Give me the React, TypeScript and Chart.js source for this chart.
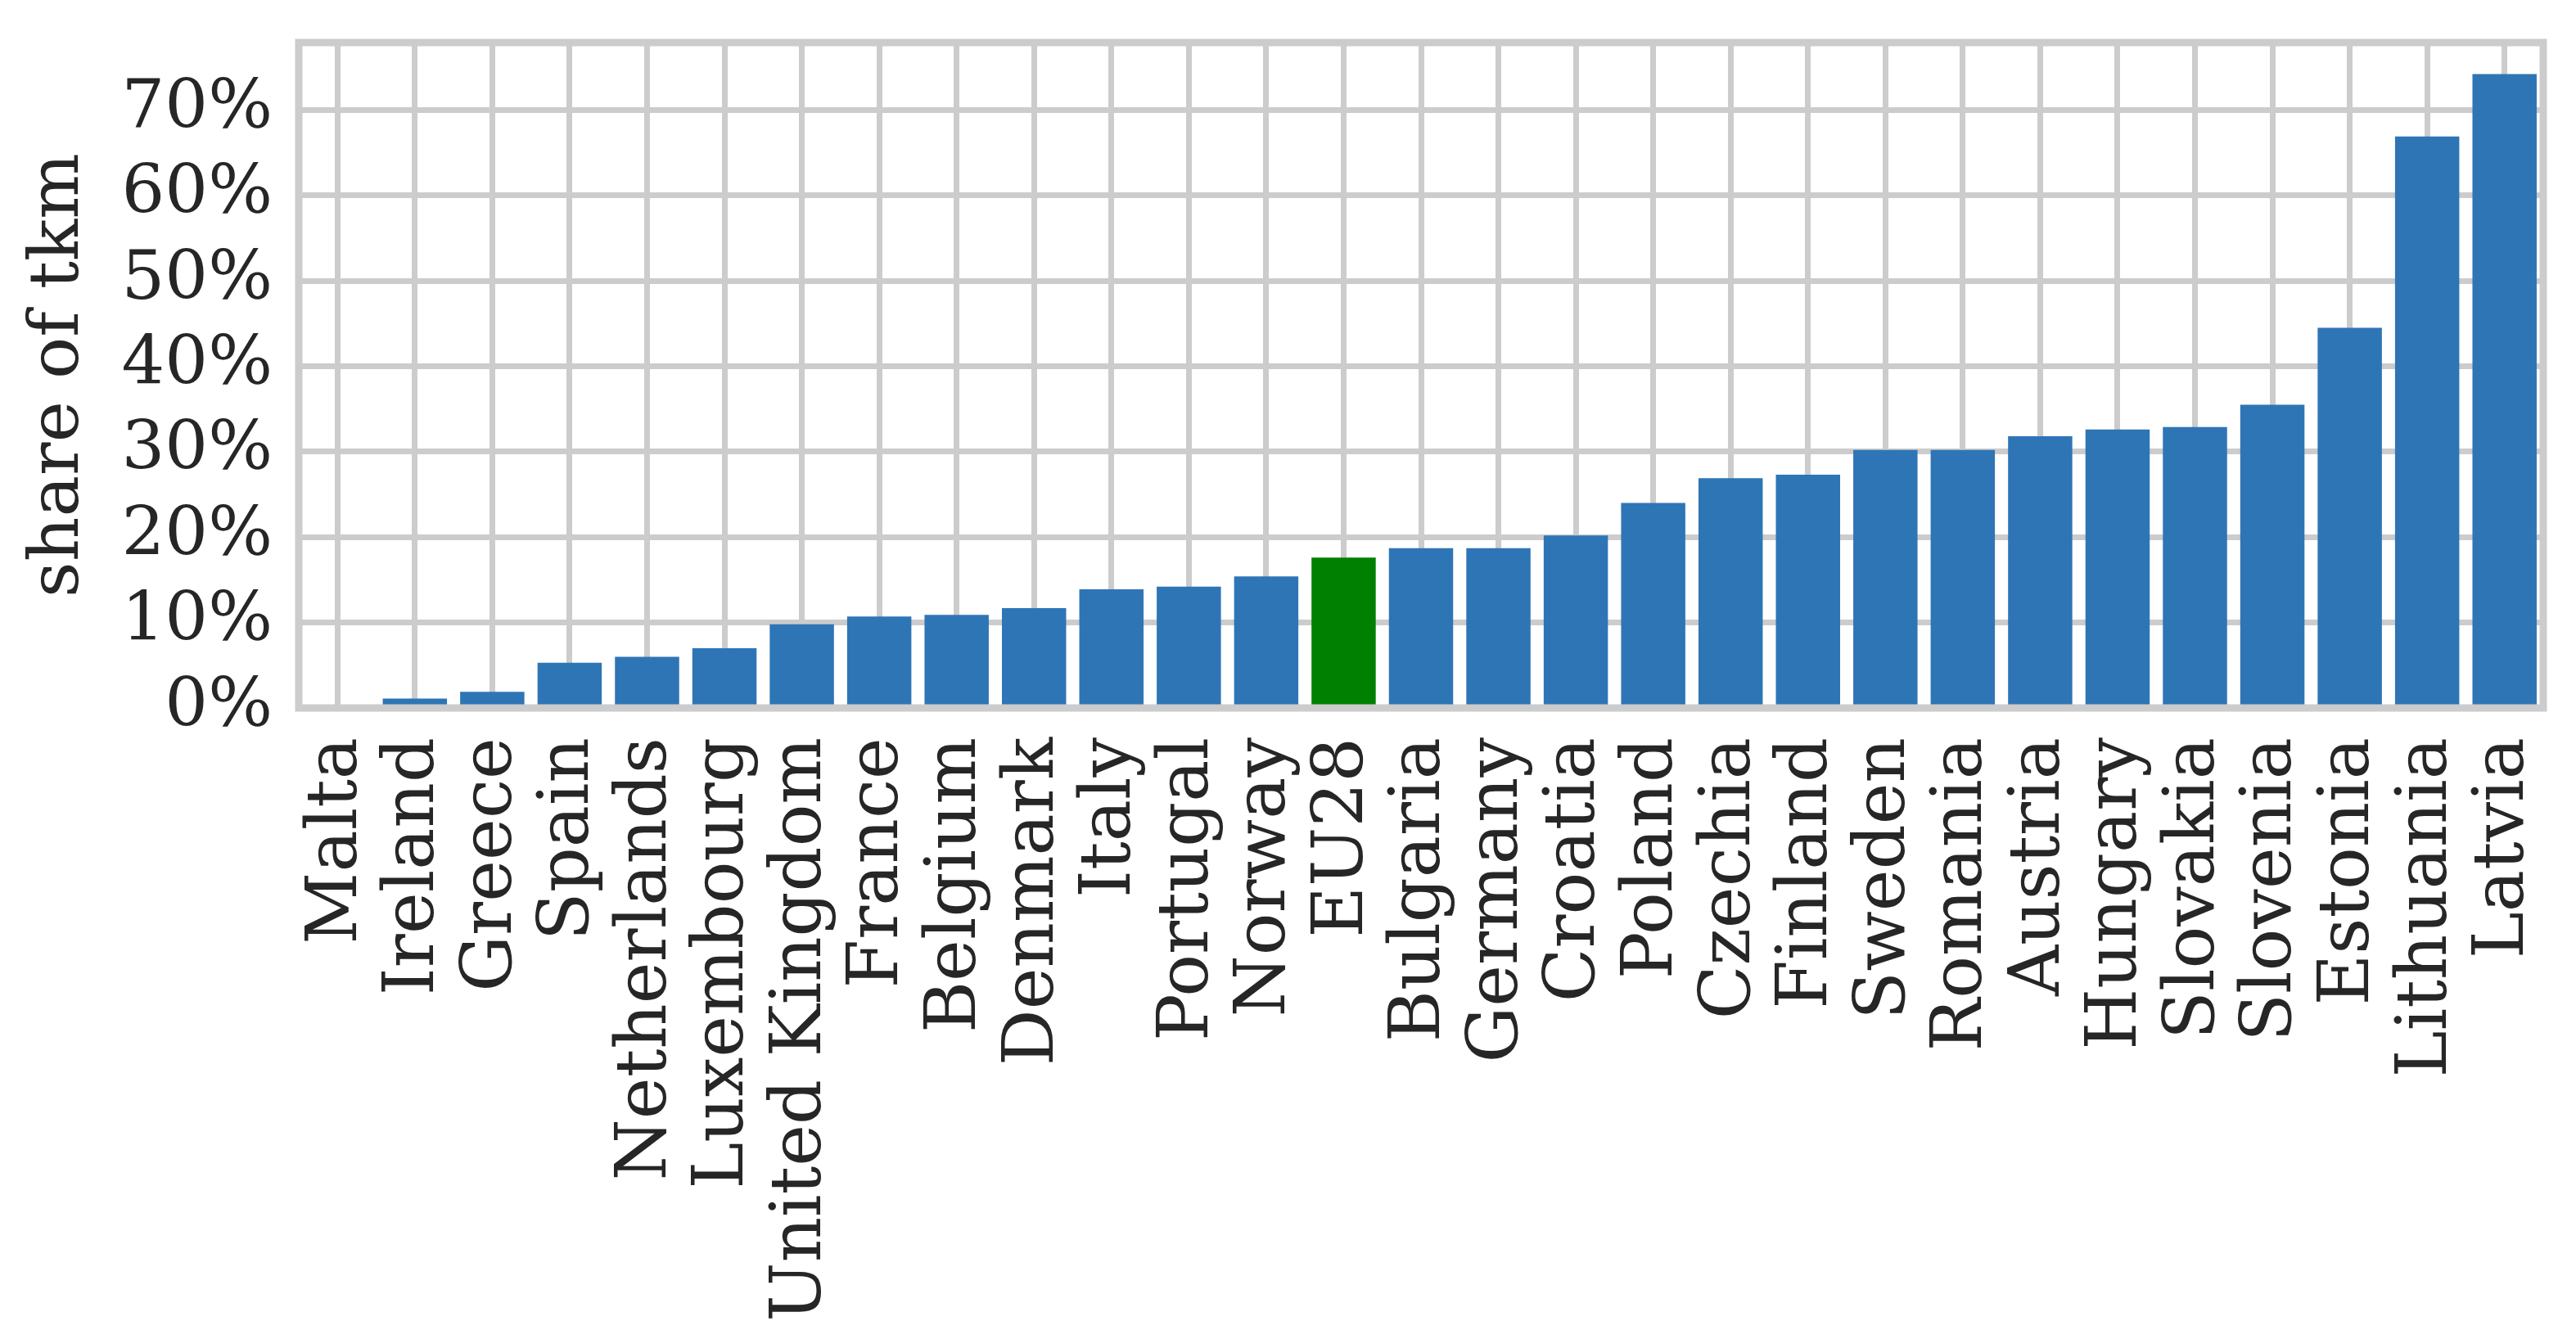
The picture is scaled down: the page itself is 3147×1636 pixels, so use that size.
import React, { useEffect, useRef } from "react";
import { Chart, registerables } from "chart.js";

Chart.register(...registerables);

const countries = [
  "Malta", "Ireland", "Greece", "Spain", "Netherlands", "Luxembourg",
  "United Kingdom", "France", "Belgium", "Denmark", "Italy", "Portugal",
  "Norway", "EU28", "Bulgaria", "Germany", "Croatia", "Poland", "Czechia",
  "Finland", "Sweden", "Romania", "Austria", "Hungary", "Slovakia",
  "Slovenia", "Estonia", "Lithuania", "Latvia",
];

const shareOfTkm = [
  0.0, 1.1, 1.9, 5.3, 6.0, 7.0,
  9.8, 10.7, 10.9, 11.7, 13.9, 14.2,
  15.4, 17.6, 18.7, 18.7, 20.2, 24.0, 26.9,
  27.3, 30.2, 30.2, 31.8, 32.6, 32.9,
  35.5, 44.5, 66.9, 74.2,
];

const highlighted = "EU28";
const yAxisMax = 77.9;
const yTickStep = 10;
const yTitle = "share of tkm";

const W = 3147;
const H = 1636;
const FONT = "'DejaVu Serif', serif";
const TEXT = "#262626";
const GRID = "#cccccc";
const BLUE = "#2e75b6";
const GREEN = "#008000";

const framePlugin = {
  id: "frame",
  afterDatasetsDraw(chart: any) {
    const { ctx, chartArea } = chart;
    ctx.save();
    ctx.strokeStyle = GRID;
    ctx.lineWidth = 9;
    ctx.strokeRect(
      chartArea.left,
      chartArea.top,
      chartArea.right - chartArea.left,
      chartArea.bottom - chartArea.top
    );
    ctx.restore();
  },
};

const zeroPad = (s: any) => {
  s.paddingTop = 0;
  s.paddingBottom = 0;
  s.paddingLeft = 0;
  s.paddingRight = 0;
};

export default function App() {
  const ref = useRef<HTMLCanvasElement | null>(null);

  useEffect(() => {
    document.body.style.margin = "0";
    const canvas = ref.current;
    if (!canvas) return;
    const chart = new Chart(canvas, {
      type: "bar",
      data: {
        labels: countries,
        datasets: [
          {
            data: shareOfTkm,
            backgroundColor: countries.map((c) => (c === highlighted ? GREEN : BLUE)),
            borderWidth: 0,
            categoryPercentage: 1.0,
            barPercentage: 0.83,
          },
        ],
      },
      options: {
        animation: false,
        responsive: false,
        devicePixelRatio: 1,
        layout: { padding: { left: 0, top: 52, right: 40, bottom: 0 } },
        plugins: {
          legend: { display: false },
          tooltip: { enabled: false },
        },
        scales: {
          x: {
            type: "category",
            offset: true,
            grid: {
              offset: false,
              color: GRID,
              lineWidth: 7,
              drawTicks: false,
            },
            border: { display: false },
            ticks: {
              autoSkip: false,
              minRotation: 90,
              maxRotation: 90,
              padding: 36,
              color: TEXT,
              font: { family: FONT, size: 86 },
            },
            afterFit: (s: any) => {
              s.height = 771;
              zeroPad(s);
            },
          },
          y: {
            min: 0,
            max: yAxisMax,
            grid: {
              color: GRID,
              lineWidth: 7,
              drawTicks: false,
            },
            border: { display: false },
            ticks: {
              stepSize: yTickStep,
              includeBounds: false,
              padding: 32,
              color: TEXT,
              font: { family: FONT, size: 83 },
              callback: (v: any) => `${v}%`,
            },
            title: {
              display: true,
              text: yTitle,
              color: TEXT,
              font: { family: FONT, size: 85 },
              padding: { top: 22, bottom: 0 },
            },
            afterFit: (s: any) => {
              s.width = 365;
              zeroPad(s);
            },
          },
        },
      },
      plugins: [framePlugin],
    });
    return () => chart.destroy();
  }, []);

  return (
    <div style={{ width: W, height: H, overflow: "hidden", background: "#ffffff" }}>
      <canvas ref={ref} width={W} height={H} style={{ width: W, height: H, display: "block" }} />
    </div>
  );
}
